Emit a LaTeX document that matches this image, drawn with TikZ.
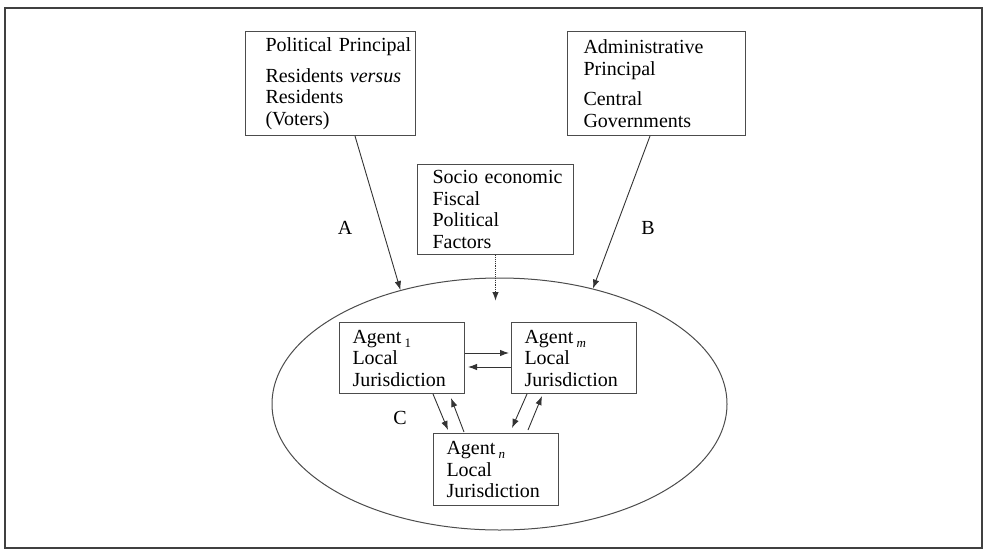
\documentclass[tikz,border=0pt]{standalone}
\usepackage{fontspec}
\setmainfont{Liberation Serif}
\usetikzlibrary{arrows.meta,shapes.geometric,calc}
\newcommand{\agsub}[1]{\,\raisebox{-0.45ex}{\fontsize{13}{13}\selectfont #1}}
\hyphenpenalty=10000
\exhyphenpenalty=10000
\begin{document}
\begin{tikzpicture}[x=1pt,y=-1pt,
  every node/.style={font=\fontsize{20}{21.5}\selectfont},
  box/.style={draw=black!70,line width=1pt,rectangle,anchor=north west,align=left,inner ysep=0pt},
  arr/.style={draw=black!80,line width=0.9pt,-{Latex[length=9pt,width=6.5pt]}},
  lbl/.style={inner sep=0pt}]
\useasboundingbox (0,0) rectangle (987,549);
\draw[black!75,line width=1.6pt] (5,8) rectangle (982,548);
% top boxes
\node[box,inner xsep=20pt,text width=130pt,minimum height=104pt] (pol) at (245,31)
  {\mbox{Political Principal}\\[9pt]\mbox{Residents \textit{versus}}\\Residents\\(Voters)};
\node[box,inner xsep=16pt,text width=146pt,minimum height=104pt] (adm) at (567,31)
  {Administrative\\Principal\\[9pt]Central\\Governments};
\node[box,inner xsep=15pt,text width=126pt,minimum height=90pt] (soc) at (417,164)
  {\mbox{Socio economic}\\Fiscal\\Political\\Factors};
% ellipse
\node[ellipse,draw=black!70,line width=1pt,minimum width=455pt,minimum height=252pt,inner sep=0pt] (ell) at (499.5,404) {};
% agents
\node[box,inner xsep=13pt,text width=99pt,minimum height=71pt] (a1) at (339,322)
  {Agent\agsub{1}\\Local\\Jurisdiction};
\node[box,inner xsep=13pt,text width=99pt,minimum height=71pt] (am) at (511,322)
  {Agent\agsub{\itshape m}\\Local\\Jurisdiction};
\node[box,inner xsep=13pt,text width=99pt,minimum height=72pt] (an) at (433,433)
  {Agent\agsub{\itshape n}\\Local\\Jurisdiction};
% labels
\node[lbl] (la) at (345,228) {A};
\node[lbl] (lb) at (648,228) {B};
\node[lbl] (lc) at (400,418) {C};
% connectors
\draw[arr] ($(pol.south west)+(110,0)$) -- (ell.131.6);
\draw[arr] ($(adm.south west)+(83,0)$) -- (ell.51.6);
\coordinate (dotend) at ($(soc.south)+(0,46)$);
\draw[arr,densely dotted,line width=1.4pt] (soc.south) -- (dotend);
\draw[arr] ($(a1.north east)+(0,31)$) -- ($(am.north west)+(-2,31)$);
\draw[arr] ($(am.north west)+(0,45)$) -- ($(a1.north east)+(3,45)$);
\draw[arr] ($(a1.south west)+(94,0)$) -- ($(an.north west)+(15,-3)$);
\draw[arr] ($(an.north west)+(31,-1)$) -- ($(a1.south west)+(112,4)$);
\draw[arr] ($(am.south west)+(16,0)$) -- ($(an.north west)+(79,-5)$);
\draw[arr] ($(an.north west)+(95,-3)$) -- ($(am.south west)+(31,2)$);
\end{tikzpicture}
\end{document}
